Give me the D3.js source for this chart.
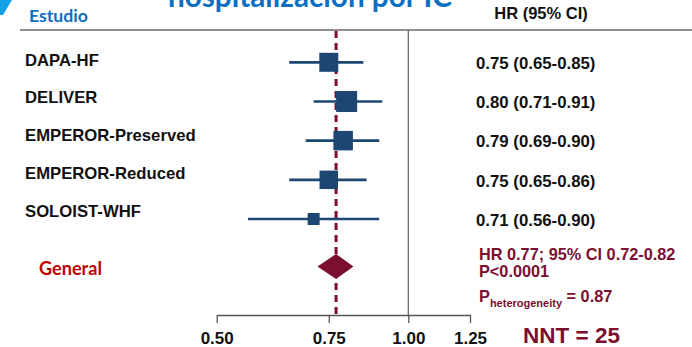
<!DOCTYPE html>
<html>
<head>
<meta charset="utf-8">
<script src="https://cdn.jsdelivr.net/npm/d3@7"></script>
<style>
  body { margin: 0; background: #fff; }
  svg { display: block; font-family: Arial, 'Liberation Sans', sans-serif; }
</style>
</head>
<body>
<div id="chart"></div>
<script>
// study data
const studies = ['DAPA-HF', 'DELIVER', 'EMPEROR-Preserved', 'EMPEROR-Reduced', 'SOLOIST-WHF'];
const hr = [0.75, 0.80, 0.79, 0.75, 0.71];
const lower = [0.65, 0.71, 0.69, 0.65, 0.56];
const upper = [0.85, 0.91, 0.90, 0.86, 0.90];
const weights = [21.6, 26.4, 22.8, 20.5, 8.6];   // % weight, drives square size

const pooled = { hr: 0.77, lower: 0.72, upper: 0.82 };
const tickValues = [0.50, 0.75, 1.00, 1.25];

const W = 692, H = 347;
const darkRed = '#7b0f30';
const navy = '#1d4772';

const svg = d3.select('#chart').append('svg')
  .attr('width', W)
  .attr('height', H);

const x = d3.scaleLog()
  .domain([0.5, 1.25])
  .range([216.7, 470]);

const y = d3.scalePoint()
  .domain(studies)
  .range([62.3, 219]);

// labels on the left sit on a slightly tighter grid
const yLabel = d3.scalePoint()
  .domain(studies)
  .range([65.7, 216.7]);

const size = d3.scaleSqrt()
  .domain([0, d3.max(weights)])
  .range([0, 21]);

const rows = studies.map((s, i) => ({
  name: s, hr: hr[i], lo: lower[i], hi: upper[i], w: weights[i]
}));

const axisY = 315;
const headerY = 30;

// fit helper: scale font so the text gets a given width
function fitWidth(sel, target) {
  const fs = parseFloat(sel.attr('font-size'));
  const len = sel.node().getComputedTextLength();
  if (len > 0) sel.attr('font-size', fs * target / len);
}

// corner mark + cut-off title
svg.append('polygon')
  .attr('points', '0,0 12,0 3,15 0,15')
  .attr('fill', '#12a0e6');

const title = svg.append('text')
  .attr('x', 168).attr('y', 6.5)
  .attr('font-family', 'Lato, sans-serif')
  .attr('font-weight', 700)
  .attr('font-size', 30)
  .attr('fill', '#0a6fc2')
  .text('hospitalización por IC');
fitWidth(title, 284);

const estudio = svg.append('text')
  .attr('x', 29).attr('y', 22)
  .attr('font-family', 'Lato, sans-serif')
  .attr('font-weight', 700)
  .attr('font-size', 18)
  .attr('fill', '#0a6fc2')
  .text('Estudio');
fitWidth(estudio, 59);

svg.append('text')
  .attr('x', 541).attr('y', 19)
  .attr('text-anchor', 'middle')
  .attr('font-weight', 700)
  .attr('font-size', 16.5)
  .attr('fill', '#111')
  .text('HR (95% CI)');

// header rule and null line
svg.append('line')
  .attr('x1', 20).attr('x2', W)
  .attr('y1', headerY).attr('y2', headerY)
  .attr('stroke', '#6b6b6b').attr('stroke-width', 1.3);

svg.append('line')
  .attr('x1', x(1)).attr('x2', x(1))
  .attr('y1', headerY).attr('y2', axisY)
  .attr('stroke', '#6b6b6b').attr('stroke-width', 1.3);

// pooled estimate dashed line
svg.append('line')
  .attr('x1', x(pooled.hr)).attr('x2', x(pooled.hr))
  .attr('y1', headerY + 1).attr('y2', axisY)
  .attr('stroke', darkRed)
  .attr('stroke-width', 3)
  .attr('stroke-dasharray', '7,5');

// axis
const axis = d3.axisBottom(x)
  .tickValues(tickValues)
  .tickFormat(d3.format('.2f'))
  .tickSize(8)
  .tickSizeOuter(0)
  .tickPadding(8.5);

const gAxis = svg.append('g')
  .attr('transform', `translate(0,${axisY})`)
  .call(axis);
gAxis.select('.domain').attr('stroke', '#555').attr('stroke-width', 1.3);
gAxis.selectAll('.tick line').attr('stroke', '#555').attr('stroke-width', 1.3);
gAxis.selectAll('.tick text')
  .attr('font-family', "Arial, 'Liberation Sans', sans-serif")
  .attr('font-size', 17)
  .attr('font-weight', 700)
  .attr('fill', '#111');

// study rows
const g = svg.selectAll('.study')
  .data(rows)
  .enter().append('g')
  .attr('class', 'study');

g.append('line')
  .attr('x1', d => x(d.lo)).attr('x2', d => x(d.hi))
  .attr('y1', d => y(d.name)).attr('y2', d => y(d.name))
  .attr('stroke', navy).attr('stroke-width', 2.7);

g.append('rect')
  .attr('x', d => x(d.hr) - size(d.w) / 2)
  .attr('y', d => y(d.name) - size(d.w) / 2)
  .attr('width', d => size(d.w))
  .attr('height', d => size(d.w))
  .attr('fill', navy);

g.append('text')
  .attr('x', 25)
  .attr('y', d => yLabel(d.name))
  .attr('font-size', 16.7)
  .attr('font-weight', 700)
  .attr('fill', '#111')
  .text(d => d.name);

g.append('text')
  .attr('x', 476)
  .attr('y', d => y(d.name) + 6.8)
  .attr('font-size', 16.8)
  .attr('font-weight', 700)
  .attr('fill', '#111')
  .text(d => `${d.hr.toFixed(2)} (${d.lo.toFixed(2)}-${d.hi.toFixed(2)})`);

// pooled diamond
const yG = 266.5;
svg.append('path')
  .attr('d', d3.line()([
    [x(pooled.lower), yG],
    [x(pooled.hr), yG - 12.5],
    [x(pooled.upper), yG],
    [x(pooled.hr), yG + 12.5]
  ]) + 'Z')
  .attr('fill', darkRed);

const general = svg.append('text')
  .attr('x', 39).attr('y', 275)
  .attr('font-family', 'Lato, sans-serif')
  .attr('font-weight', 700)
  .attr('font-size', 19)
  .attr('fill', '#c00000')
  .text('General');
fitWidth(general, 63);

// summary text
const summ = svg.append('g')
  .attr('font-weight', 700)
  .attr('fill', darkRed)
  .attr('font-size', 16.3);

summ.append('text').attr('x', 479).attr('y', 260)
  .text(`HR ${pooled.hr.toFixed(2)}; 95% CI ${pooled.lower.toFixed(2)}-${pooled.upper.toFixed(2)}`);
summ.append('text').attr('x', 479).attr('y', 277)
  .text('P<0.0001');

const het = summ.append('text').attr('x', 479).attr('y', 301.7);
het.append('tspan').text('P');
het.append('tspan').attr('font-size', 11).attr('dy', 5).text('heterogeneity');
het.append('tspan').attr('dy', -5).text(' = 0.87');

summ.append('text').attr('x', 523).attr('y', 343.3)
  .attr('font-size', 22.5)
  .text('NNT = 25');
</script>
</body>
</html>
